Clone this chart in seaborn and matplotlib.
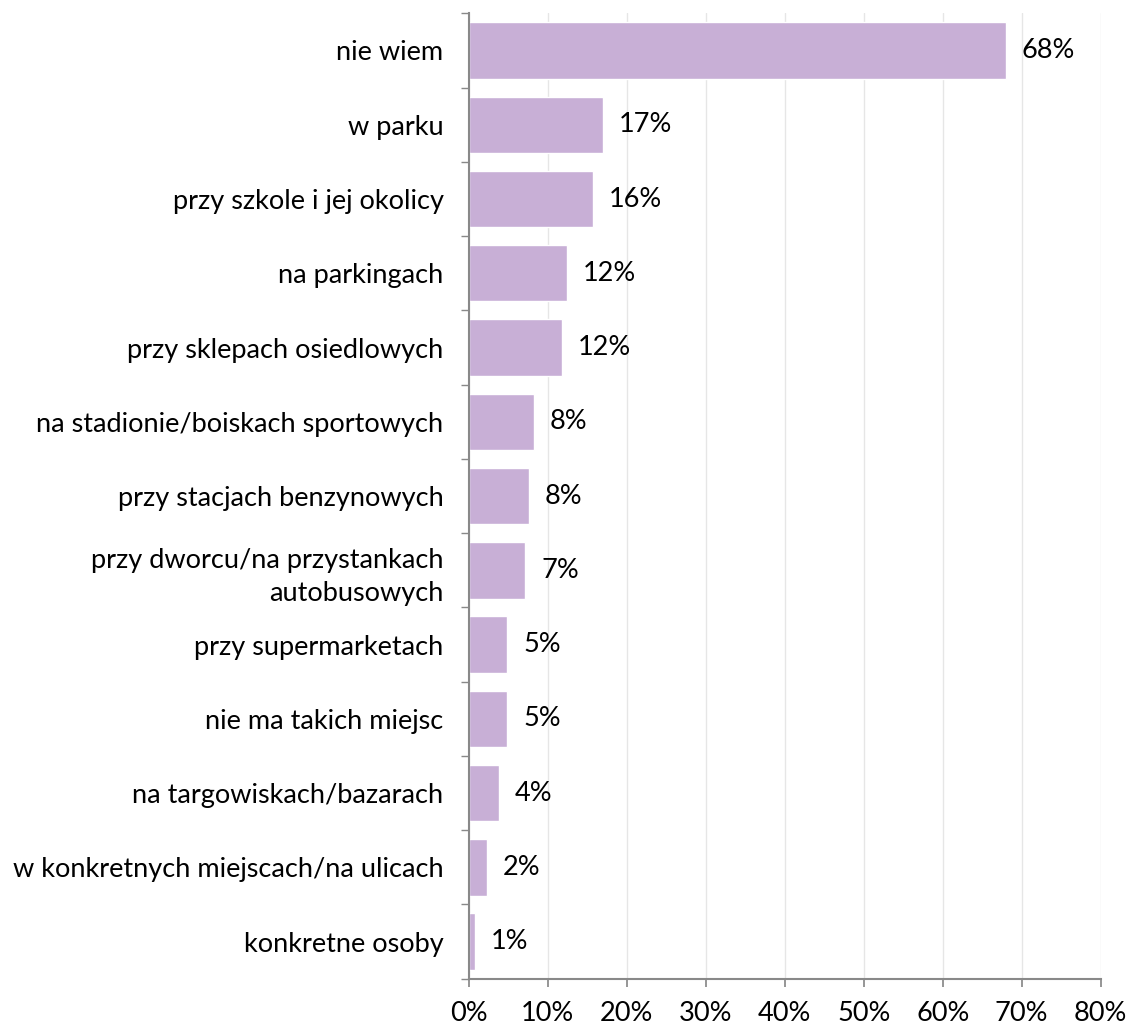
import numpy as np
import pandas as pd
import matplotlib
matplotlib.use("Agg")
import matplotlib.pyplot as plt
import seaborn as sns

# Data
categories = [
    "nie wiem",
    "w parku",
    "przy szkole i jej okolicy",
    "na parkingach",
    "przy sklepach osiedlowych",
    "na stadionie/boiskach sportowych",
    "przy stacjach benzynowych",
    "przy dworcu/na przystankach\nautobusowych",
    "przy supermarketach",
    "nie ma takich miejsc",
    "na targowiskach/bazarach",
    "w konkretnych miejscach/na ulicach",
    "konkretne osoby",
]
values = [68.0, 17.0, 15.8, 12.4, 11.8, 8.3, 7.6, 7.2, 4.9, 4.9, 3.8, 2.3, 0.8]
x_ticks = [0, 10, 20, 30, 40, 50, 60, 70, 80]

sns.set_theme(style="white")
plt.rcParams['font.family'] = ['Lato', 'DejaVu Sans']
plt.rcParams['text.color'] = 'black'
plt.rcParams['xtick.color'] = 'black'
plt.rcParams['ytick.color'] = 'black'

df = pd.DataFrame({"category": categories, "value": values})

fig = plt.figure(figsize=(11.29, 10.27), dpi=100)
ax = fig.add_axes([0.415, 0.047, 0.56, 0.940])

sns.barplot(data=df, x="value", y="category", color="#C8AFD6",
            width=0.76, saturation=1, ax=ax, zorder=2)

ax.set_xlim(0, 80)
ax.set_ylim(len(categories) - 0.5, -0.5)
ax.set_xticks(x_ticks)
ax.set_xticklabels([f"{t}%" for t in x_ticks], fontsize=19.5)
ax.set_xlabel("")
ax.set_ylabel("")
ax.tick_params(axis="y", labelsize=19.5, length=0, pad=18, labelcolor="black")
ax.tick_params(axis="x", length=6, color="#898989", direction="out", pad=10,
               bottom=True, labelcolor="black")
for lbl in ax.get_yticklabels():
    lbl.set_linespacing(1.4)

# category boundary ticks on the y axis
ax.set_yticks(np.arange(-0.5, len(categories), 1.0), minor=True)
ax.tick_params(axis="y", which="minor", length=6, color="#898989", direction="out", left=True)

ax.grid(axis="x", color="#E6E6E6", linewidth=1.0, zorder=0)
ax.set_axisbelow(True)

for side in ["top", "right"]:
    ax.spines[side].set_visible(False)
for side in ["left", "bottom"]:
    ax.spines[side].set_color("#898989")
    ax.spines[side].set_linewidth(1.5)

# value labels
for i, v in enumerate(values):
    ax.text(v + 2.0, i, f"{round(v):.0f}%", va="center", ha="left", fontsize=19.5, color="black")

fig.savefig("out.png", dpi=100)
